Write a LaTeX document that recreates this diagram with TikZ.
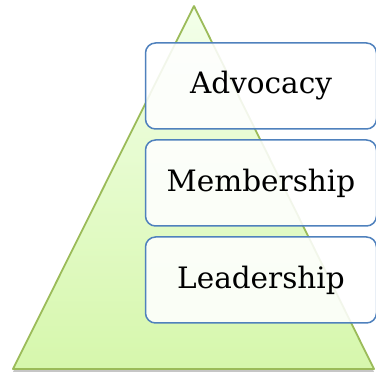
\documentclass[tikz,border=0pt]{standalone}
\usepackage{fontspec}
\setmainfont{DejaVu Serif}
\usetikzlibrary{shadows}

\definecolor{pyrline}{HTML}{9BBB59}
\definecolor{pyrtop}{HTML}{F3FFEA}
\definecolor{pyrbottom}{HTML}{D6F7AC}
\definecolor{boxline}{HTML}{4F81BD}

\begin{document}
\begin{tikzpicture}[x=1pt,y=1pt]
\tikzset{
  pyramid/.style={draw=pyrline,line width=1.8pt,line join=round,top color=pyrtop,bottom color=pyrbottom,
    drop shadow={shadow xshift=0pt,shadow yshift=-3pt,opacity=0.45}},
  tierbox/.style={draw=boxline,line width=1.5pt,rounded corners=10pt,fill=white,fill opacity=0.88,text opacity=1,
    minimum width=231pt,minimum height=86pt,inner sep=0pt,font=\fontsize{29.5}{34}\selectfont}
}
\useasboundingbox (0,0) rectangle (376,375);
% pyramid behind the tiers
\path[pyramid] (194,369) -- (374,6) -- (13,6) -- cycle;
\node[tierbox] (n_adv) at (261,289) {Advocacy};
\node[tierbox] (n_mem) at (261,192) {Membership};
\node[tierbox] (n_lead) at (261,95) {Leadership};
\end{tikzpicture}
\end{document}
